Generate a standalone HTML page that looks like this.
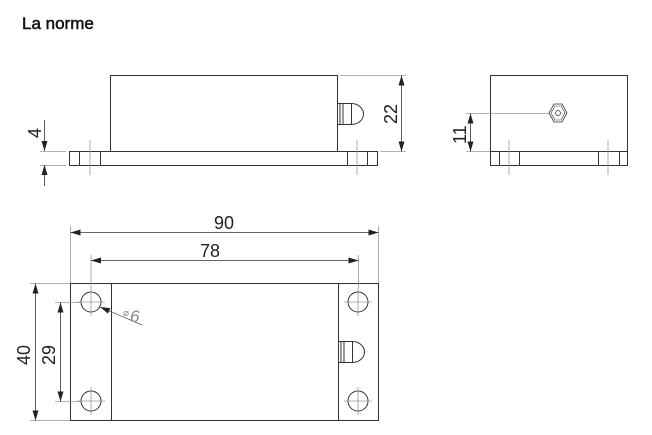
<!DOCTYPE html>
<html><head><style>
body{margin:0;background:#fff;}
svg{display:block;}
</style></head><body>
<svg width="652" height="435" viewBox="0 0 652 435" xmlns="http://www.w3.org/2000/svg" font-family="Liberation Sans, sans-serif">
<defs>
<marker id="a" viewBox="0 0 10 6" refX="10" refY="3" markerWidth="10" markerHeight="6" orient="auto-start-reverse" markerUnits="userSpaceOnUse"><path d="M0,0 L10,3 L0,6 Z" fill="#222"/></marker>
</defs>
<text x="22" y="29" font-size="17" fill="#111" stroke="#111" stroke-width="0.5">La norme</text>

<g fill="none" stroke="#333" stroke-width="1">
<rect x="110.5" y="75.5" width="227" height="76"/>
<rect x="69.5" y="151.5" width="308" height="14"/>
<line x1="79.5" y1="151" x2="79.5" y2="165"/>
<line x1="100.5" y1="151" x2="100.5" y2="165"/>
<line x1="347.5" y1="151" x2="347.5" y2="165"/>
<line x1="367.5" y1="151" x2="367.5" y2="165"/>
<rect x="337.5" y="103.5" width="14" height="21"/>
<line x1="340" y1="104" x2="340" y2="124"/><line x1="343" y1="104" x2="343" y2="124"/>
<path d="M351.5,103.5 A12,10.5 0 0 1 351.5,124.5"/>
</g>
<g stroke="#999" stroke-width="0.8" fill="none">
<line x1="90" y1="140" x2="90" y2="175"/>
<line x1="357" y1="140" x2="357" y2="175"/>
<line x1="340" y1="75.5" x2="406" y2="75.5"/>
<line x1="380" y1="151.5" x2="406" y2="151.5"/>
<line x1="40" y1="151.5" x2="66" y2="151.5"/>
<line x1="40" y1="165.5" x2="66" y2="165.5"/>
<line x1="44.5" y1="120" x2="44.5" y2="151" stroke="#333" marker-end="url(#a)"/>
<line x1="44.5" y1="186" x2="44.5" y2="165" stroke="#333" marker-end="url(#a)"/>
<line x1="401.5" y1="75.5" x2="401.5" y2="151.5" stroke="#333" marker-start="url(#a)" marker-end="url(#a)"/>
</g>
<text x="0" y="0" font-size="18" fill="#222" transform="translate(41,138) rotate(-90)">4</text>
<text x="0" y="0" font-size="18" fill="#222" transform="translate(397,124) rotate(-90)">22</text>

<!-- side view -->
<g fill="none" stroke="#333" stroke-width="1">
<rect x="490.5" y="75.5" width="137" height="76"/>
<rect x="490.5" y="151.5" width="137" height="14"/>
<line x1="499.5" y1="151" x2="499.5" y2="165"/>
<line x1="519.5" y1="151" x2="519.5" y2="165"/>
<line x1="598.5" y1="151" x2="598.5" y2="165"/>
<line x1="619.5" y1="151" x2="619.5" y2="165"/>
<polygon points="554,104 562,104 567,113 562,122 554,122 549,113" stroke-width="0.8"/>
<polygon points="555,106 561,106 565,113 561,120 555,120 551,113" stroke-width="0.6"/>
<circle cx="558" cy="113" r="2.5" stroke-width="0.7"/>
</g>
<g stroke="#999" stroke-width="0.8">
<line x1="509" y1="140" x2="509" y2="175"/>
<line x1="608" y1="140" x2="608" y2="175"/>
<line x1="466" y1="113.5" x2="549" y2="113.5"/>
<line x1="466" y1="151.5" x2="490" y2="151.5"/>
<line x1="470.5" y1="113.5" x2="470.5" y2="151.5" stroke="#333" marker-start="url(#a)" marker-end="url(#a)"/>
</g>
<text x="0" y="0" font-size="18" fill="#222" transform="translate(466,144) rotate(-90)">11</text>

<!-- bottom view -->
<g fill="none" stroke="#333" stroke-width="1">
<rect x="70.5" y="283.5" width="308" height="137"/>
<line x1="111.5" y1="283" x2="111.5" y2="420"/>
<line x1="338.5" y1="283" x2="338.5" y2="420"/>
<circle cx="91" cy="302" r="10"/>
<circle cx="91" cy="401" r="10"/>
<circle cx="358" cy="302" r="10"/>
<circle cx="358" cy="401" r="10"/>
<rect x="338.5" y="341.5" width="14" height="21"/>
<line x1="341" y1="342" x2="341" y2="362"/><line x1="344" y1="342" x2="344" y2="362"/>
<path d="M352.5,341.5 A12,10.5 0 0 1 352.5,362.5"/>
</g>
<g stroke="#999" stroke-width="0.8">
<line x1="77" y1="302" x2="105" y2="302"/><line x1="91" y1="288" x2="91" y2="316"/>
<line x1="77" y1="401" x2="105" y2="401"/><line x1="91" y1="387" x2="91" y2="415"/>
<line x1="344" y1="302" x2="372" y2="302"/><line x1="358" y1="288" x2="358" y2="316"/>
<line x1="344" y1="401" x2="372" y2="401"/><line x1="358" y1="387" x2="358" y2="415"/>
<line x1="70.5" y1="226" x2="70.5" y2="283"/>
<line x1="378.5" y1="226" x2="378.5" y2="283"/>
<line x1="91" y1="255" x2="91" y2="288"/>
<line x1="358.5" y1="255" x2="358.5" y2="288"/>
<line x1="30" y1="283.5" x2="70" y2="283.5"/>
<line x1="30" y1="420.5" x2="70" y2="420.5"/>
<line x1="55" y1="302.5" x2="80" y2="302.5"/>
<line x1="55" y1="401.5" x2="80" y2="401.5"/>
<line x1="142" y1="325" x2="100" y2="307" stroke="#555" marker-end="url(#a)"/>
<line x1="70.5" y1="232.5" x2="378.5" y2="232.5" stroke="#333" marker-start="url(#a)" marker-end="url(#a)"/>
<line x1="91" y1="260.5" x2="358.5" y2="260.5" stroke="#333" marker-start="url(#a)" marker-end="url(#a)"/>
<line x1="35.5" y1="283.5" x2="35.5" y2="420.5" stroke="#333" marker-start="url(#a)" marker-end="url(#a)"/>
<line x1="60.5" y1="302.5" x2="60.5" y2="401.5" stroke="#333" marker-start="url(#a)" marker-end="url(#a)"/>
</g>
<text x="224" y="229" font-size="18" fill="#222" text-anchor="middle">90</text>
<text x="210" y="257" font-size="18" fill="#222" text-anchor="middle">78</text>
<text x="0" y="0" font-size="18" fill="#222" transform="translate(30,365) rotate(-90)">40</text>
<text x="0" y="0" font-size="18" fill="#222" transform="translate(55,365) rotate(-90)">29</text>
<text x="123" y="316" font-size="10" fill="#888">⌀</text>
<text x="130" y="322" font-size="17" fill="#888" font-style="italic">6</text>
</svg>
</body></html>
